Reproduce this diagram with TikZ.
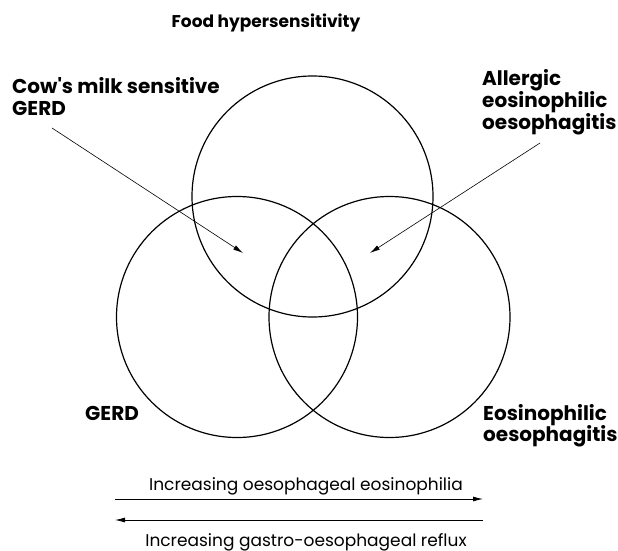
\documentclass[tikz,border=0pt]{standalone}
\usepackage{fontspec}
\setmainfont{Poppins}[Ligatures=TeXOff]
\usetikzlibrary{arrows.meta}
\begin{document}
\begin{tikzpicture}[x=1pt,y=-1pt,
  ring/.style={draw=black,line width=1.2pt},
  lbl/.style={font=\bfseries\fontsize{20}{24}\selectfont,align=left,inner sep=0pt,anchor=base west},
  ttl/.style={font=\bfseries\fontsize{17}{20}\selectfont,inner sep=0pt,anchor=base},
  captxt/.style={font=\fontsize{17}{20}\selectfont,inner sep=0pt,anchor=base},
  ptr/.style={draw=black,line width=0.6pt,-{Latex[length=10pt,width=5pt]}},
  bar/.style={draw=black,line width=0.8pt,-{Latex[length=10pt,width=5pt]}}]
\useasboundingbox (0,0) rectangle (618,551);
\node[ttl] (title) at (266,28) {Food hypersensitivity};
\draw[ring] (312.5,196.5) circle[radius=120.5];
\draw[ring] (237,317) circle[radius=120.5];
\draw[ring] (389.5,317) circle[radius=120.5];
\node[lbl] (cow) at (12,93) {Cow's milk sensitive};
\node[lbl] (cowb) at (12,115) {GERD};
\node[lbl] (all) at (482,85) {Allergic};
\node[lbl] (allb) at (482,107) {eosinophilic};
\node[lbl] (allc) at (482,129) {oesophagitis};
\node[lbl] (gerd) at (85,420) {GERD};
\node[lbl] (eo) at (483,420) {Eosinophilic};
\node[lbl] (eob) at (483,441) {oesophagitis};
\coordinate (p1s) at (52,128);
\coordinate (p1e) at (243,253);
\coordinate (p2s) at (540,143);
\coordinate (p2e) at (370,253);
\draw[ptr] (p1s) -- (p1e);
\draw[ptr] (p2s) -- (p2e);
\coordinate (b1s) at (115,499);
\coordinate (b1e) at (483,499);
\coordinate (b2s) at (483,520);
\coordinate (b2e) at (115,520);
\draw[bar] (b1s) -- (b1e);
\draw[bar] (b2s) -- (b2e);
\node[captxt] (t1) at (306,490) {Increasing oesophageal eosinophilia};
\node[captxt] (t2) at (306,546) {Increasing gastro-oesophageal reflux};
\end{tikzpicture}
\end{document}
